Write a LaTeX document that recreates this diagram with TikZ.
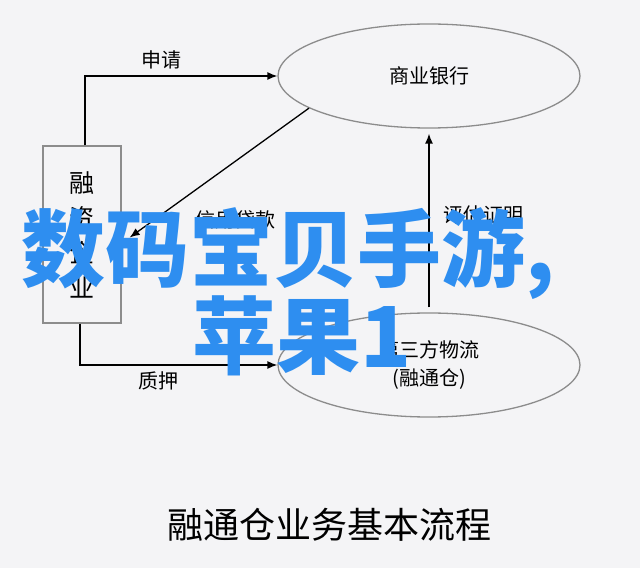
\documentclass[tikz,border=0pt]{standalone}
\usepackage{fontspec}
\setmainfont{Noto Sans CJK SC}
\usetikzlibrary{positioning,arrows,arrows.meta,shapes,shapes.geometric}
\definecolor{bggray}{HTML}{F4F4F6}
\definecolor{boxgray}{HTML}{8C8C8C}
\definecolor{markblue}{HTML}{2E8EF0}
\tikzset{
	x=1pt, y=1pt,
	>={Latex[length=10pt,width=8pt]},
	every node/.style = {inner sep = 2},
	every text node part/.style={align=center},
	party/.style={draw=boxgray, line width=1.3pt, ellipse, minimum width=302, minimum height=104, font=\fontsize{20}{28}\selectfont},
	firmbox/.style={draw=boxgray, line width=1.3pt, minimum width=78, minimum height=177, font=\fontsize{25}{35}\selectfont},
	flow/.style={->, line width=1.3pt, black},
	lbl/.style={font=\fontsize{20}{24}\selectfont, black},
	watermark/.style={anchor=west, inner sep=0, text=markblue, font=\fontsize{84}{84}\selectfont\bfseries}
}
\begin{document}
\begin{tikzpicture}
		\useasboundingbox (0,0) rectangle (640,568);
		\fill[bggray] (0,0) rectangle (640,568);
		
		\node(firm)[firmbox] at (82,333.5) {融\\资\\企\\业};
		\node(bank)[party] at (429,492) {商业银行};
		\node(logi)[party] at (429,203) {第三方物流\\(融通仓)};
		\node(title)[font=\fontsize{36}{40}\selectfont] at (329,43) {融通仓业务基本流程};
		
		\draw[flow] ([xshift=3pt]firm.north) |- node[lbl, pos=0.7, above=4pt]{申请} (bank.west);
		\draw[flow] ([xshift=-2pt]firm.south) |- node[lbl, pos=0.7, below=4pt]{质押} (logi.west);
		\draw[flow] (bank.195) -- node[lbl, pos=0.41, yshift=-59pt]{信用贷款} ([xshift=8pt,yshift=-3pt]firm.east);
		\draw[flow, shorten <=5pt, shorten >=5pt] (logi.north) -- node[lbl, pos=0.53, right=12pt]{评估证明} (bank.south);
		
		\node(mark1)[watermark] at (21,314) {数码宝贝手游,};
		\node(mark2)[watermark] at (192,232) {苹果1};
\end{tikzpicture}
\end{document}
